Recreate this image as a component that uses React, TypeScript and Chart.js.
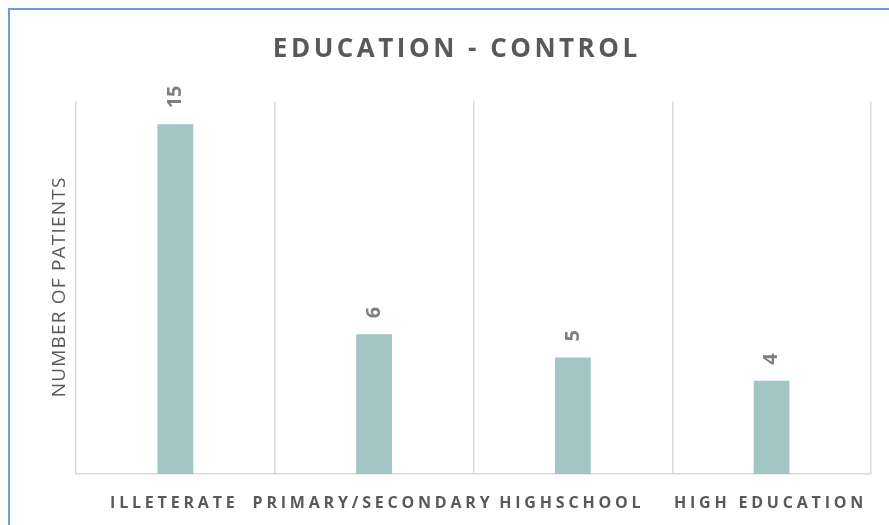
import React, { useEffect, useRef } from "react";
import { Chart, registerables } from "chart.js";

Chart.register(...registerables);

const chartTitle = "EDUCATION - CONTROL";
const yAxisTitle = "NUMBER OF PATIENTS";
const categories = ["ILLETERATE", "PRIMARY/SECONDARY", "HIGHSCHOOL", "HIGH EDUCATION"];
const patients = [15, 6, 5, 4];
const yMax = 16;

const FONT = '"Open Sans", "DejaVu Sans", sans-serif';

function spacedText(ctx: CanvasRenderingContext2D, text: string, x: number, y: number, spacing: number) {
  (ctx as any).letterSpacing = spacing + "px";
  const w = ctx.measureText(text).width - spacing;
  ctx.textAlign = "left";
  ctx.fillText(text, x - w / 2, y);
  (ctx as any).letterSpacing = "0px";
}

const textPlugin = {
  id: "customText",
  afterDraw(chart: any) {
    const ctx: CanvasRenderingContext2D = chart.ctx;
    const area = chart.chartArea;
    const xScale = chart.scales.x;
    ctx.save();
    // title
    ctx.fillStyle = "#595959";
    ctx.font = `bold 26px ${FONT}`;
    ctx.textBaseline = "middle";
    spacedText(ctx, chartTitle, 455, 50, 3.5);
    // x labels
    ctx.font = `bold 16px ${FONT}`;
    categories.forEach((c, i) => {
      spacedText(ctx, c, xScale.getPixelForValue(i) - 3, 503, 3.8);
    });
    // y title
    ctx.save();
    ctx.translate(60, (area.top + area.bottom) / 2);
    ctx.rotate(-Math.PI / 2);
    ctx.font = `19px ${FONT}`;
    ctx.textBaseline = "middle";
    spacedText(ctx, yAxisTitle, 0, 0, 1.2);
    ctx.restore();
    // data labels
    const meta = chart.getDatasetMeta(0);
    ctx.font = `bold 20px ${FONT}`;
    ctx.fillStyle = "#7f7f7f";
    meta.data.forEach((bar: any, i: number) => {
      ctx.save();
      ctx.translate(bar.x, bar.y - 16);
      ctx.rotate(-Math.PI / 2);
      ctx.textAlign = "left";
      ctx.textBaseline = "middle";
      ctx.fillText(String(patients[i]), 0, 0);
      ctx.restore();
    });
    ctx.restore();
  },
};

export default function App() {
  const ref = useRef<HTMLCanvasElement>(null);
  useEffect(() => {
    if (!ref.current) return;
    const chart = new Chart(ref.current, {
      type: "bar",
      data: {
        labels: categories,
        datasets: [
          {
            data: patients,
            backgroundColor: "#a2c5c5",
            categoryPercentage: 1,
            barPercentage: 0.18,
          },
        ],
      },
      options: {
        animation: false,
        responsive: false,
        layout: { padding: { left: 76, right: 18, top: 101, bottom: 0 } },
        plugins: { legend: { display: false }, title: { display: false }, tooltip: { enabled: false } },
        scales: {
          x: {
            grid: { offset: true, color: "#d9d9d9", lineWidth: 1.5, drawTicks: false },
            border: { display: true, color: "#d9d9d9", width: 1.5 },
            ticks: { display: false },
            afterFit: (s: any) => {
              s.height = 51;
            },
          },
          y: { display: false, min: 0, max: yMax },
        },
      },
      plugins: [textPlugin],
    });
    return () => chart.destroy();
  }, []);
  return (
    <div style={{ position: "fixed", left: 0, top: 0, width: 889, height: 525, overflow: "hidden", background: "#fff" }}>
      <canvas ref={ref} width={889} height={525} style={{ position: "absolute", left: 0, top: 0 }} />
      <div
        style={{
          position: "absolute",
          left: 8,
          top: 8,
          width: 1000,
          height: 1000,
          border: "2px solid #6a9edb",
          pointerEvents: "none",
        }}
      />
    </div>
  );
}
